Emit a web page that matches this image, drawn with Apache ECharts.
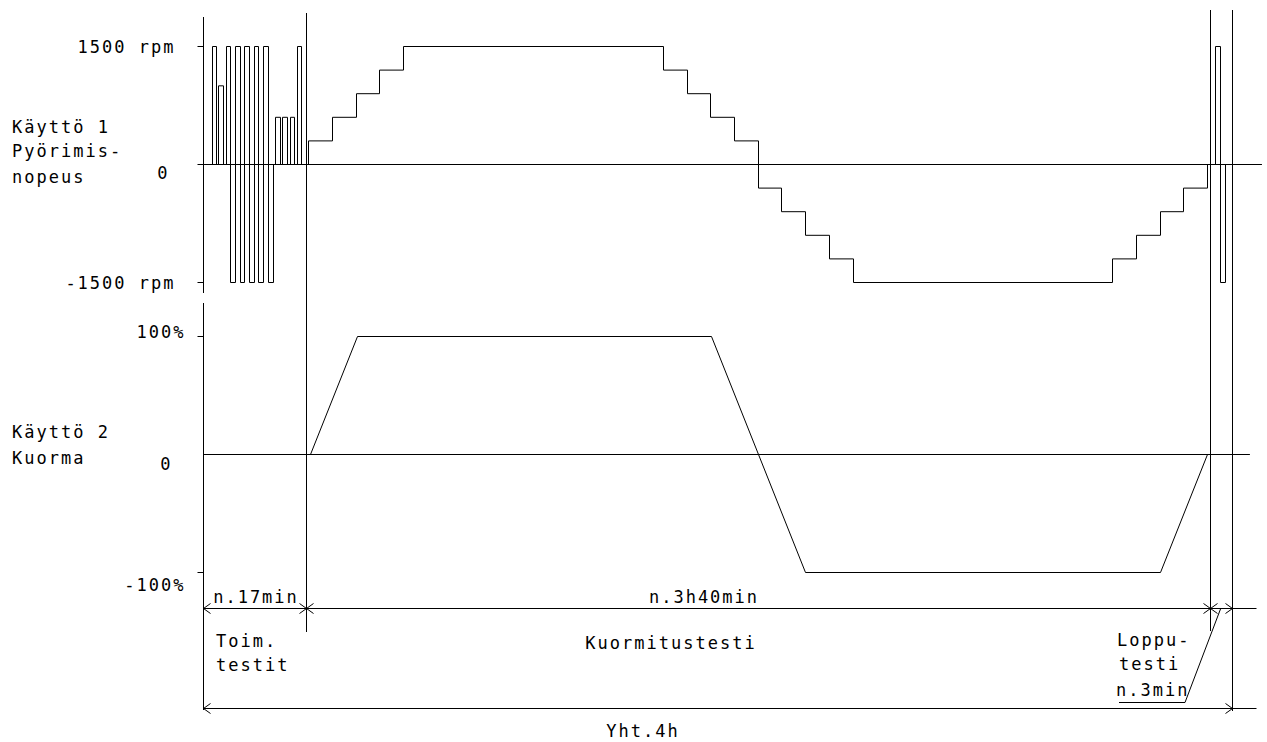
<!DOCTYPE html>
<html>
<head>
<meta charset="utf-8">
<script src="https://cdn.jsdelivr.net/npm/echarts@6/dist/echarts.min.js"></script>
<style>
html,body{margin:0;padding:0;background:#fff;}
#main{width:1267px;height:742px;}
#main text{letter-spacing:2px;}
</style>
</head>
<body>
<div id="main"></div>
<script>
// ---- data (time in drawing units along the shared time axis) ----
const speedT = [0, 9, 13, 15, 20, 23, 27, 32, 37, 41, 46, 51, 55, 60, 65, 70, 72, 77, 79, 84, 87, 91, 94, 98, 105, 129, 153, 176, 200, 460, 484, 507, 531, 555, 578, 602, 626, 650, 909, 933, 957, 980, 1004, 1012, 1017, 1022, 1058];
const speedV = [0, 1500, 0, 1000, 0, 1500, -1500, 1500, -1500, 1500, -1500, 1500, -1500, 1500, -1500, 0, 600, 0, 600, 0, 600, 0, 1500, 0, 300, 600, 900, 1200, 1500, 1200, 900, 600, 300, -300, -600, -900, -1200, -1500, -1200, -900, -600, -300, 0, 1500, -1500, 0, 0];
const loadT = [107, 154, 508, 602, 957, 1004];
const loadV = [0, 100, 100, -100, -100, 0];
const speedTicks = [-1500, 0, 1500];
const loadTicks = [-100, 0, 100];
const phaseBounds = [0, 103, 1007, 1029];
const phaseDur = ['n.17min', 'n.3h40min', 'n.3min'];
const phaseNames = [['Toim.', 'testit'], ['Kuormitustesti'], ['Loppu-', 'testi']];
const totalLabel = 'Yht.4h';
const drive1Label = ['Käyttö 1', 'Pyörimis-', 'nopeus'];
const drive2Label = ['Käyttö 2', 'Kuorma'];

// ---- styling ----
const FF = '"DejaVu Sans Mono", monospace';
const FS = 17;
const INK = '#000';

const chart = echarts.init(document.getElementById('main'), null, {renderer: 'svg', width: 1267, height: 742});

function lab(extra) {
  return Object.assign({color: INK, fontFamily: FF, fontSize: FS}, extra);
}
function yBase(grid, min, max, interval) {
  return {gridIndex: grid, type: 'value', min: min, max: max, interval: interval, position: 'left',
    axisLine: {show: false}, splitLine: {show: false}};
}

const option = {
  animation: false,
  backgroundColor: '#fff',
  grid: [
    {left: 203.5, top: 46.5, width: 1058, height: 236},
    {left: 203.5, top: 336.5, width: 1046, height: 236}
  ],
  xAxis: [
    {gridIndex: 0, type: 'value', min: 0, max: 1058,
     axisLine: {show: true, onZero: true, lineStyle: {color: INK, width: 1}},
     axisTick: {show: false}, axisLabel: {show: false}, splitLine: {show: false}},
    {gridIndex: 1, type: 'value', min: 0, max: 1046,
     axisLine: {show: true, onZero: true, lineStyle: {color: INK, width: 1}},
     axisTick: {show: false}, axisLabel: {show: false}, splitLine: {show: false}}
  ],
  yAxis: [
    Object.assign(yBase(0, speedTicks[0], speedTicks[2], 1500), {
      axisTick: {show: true, customValues: speedTicks, length: 6, lineStyle: {color: INK}},
      axisLabel: lab({customValues: [speedTicks[0], speedTicks[2]], margin: 28,
        formatter: v => v === 0 ? '' : v + ' rpm'})
    }),
    Object.assign(yBase(0, speedTicks[0], speedTicks[2], 1500), {
      axisTick: {show: false},
      axisLabel: lab({customValues: [0], margin: 34, verticalAlign: 'top', lineHeight: 17,
        formatter: v => v === 0 ? '0' : ''})
    }),
    Object.assign(yBase(1, loadTicks[0], loadTicks[2], 100), {
      axisTick: {show: true, customValues: [loadTicks[0], loadTicks[2]], length: 6, lineStyle: {color: INK}},
      axisLabel: lab({customValues: [loadTicks[2]], margin: 18, verticalAlign: 'bottom', lineHeight: 10,
        formatter: v => v === 100 ? v + '%' : ''})
    }),
    Object.assign(yBase(1, loadTicks[0], loadTicks[2], 100), {
      axisTick: {show: false},
      axisLabel: lab({customValues: [0], margin: 31, verticalAlign: 'top', lineHeight: 18,
        formatter: v => v === 0 ? '0' : ''})
    }),
    Object.assign(yBase(1, loadTicks[0], loadTicks[2], 100), {
      axisTick: {show: false},
      axisLabel: lab({customValues: [loadTicks[0]], margin: 18, verticalAlign: 'top', lineHeight: 17, padding: [4, 0, 0, 0],
        formatter: v => v === -100 ? v + '%' : ''})
    })
  ],
  series: [
    {type: 'line', xAxisIndex: 0, yAxisIndex: 0, step: 'end', clip: false,
     data: speedT.map((t, i) => [t, speedV[i]]), symbol: 'none',
     lineStyle: {color: INK, width: 1}},
    {type: 'line', xAxisIndex: 1, yAxisIndex: 2, clip: false,
     data: loadT.map((t, i) => [t, loadV[i]]), symbol: 'none',
     lineStyle: {color: INK, width: 1}}
  ]
};
chart.setOption(option);

// ---- drawing-frame decorations (dimension lines, boundaries, annotations) ----
const px = t => chart.convertToPixel({xAxisIndex: 0}, t);
const bx = phaseBounds.map(px);
const G = [];
const stroke = {stroke: INK, lineWidth: 1, fill: null};
function vline(x, y1, y2) { G.push({type: 'line', silent: true, shape: {x1: x, y1: y1, x2: x, y2: y2}, style: stroke}); }
function hline(x1, x2, y) { G.push({type: 'line', silent: true, shape: {x1: x1, y1: y, x2: x2, y2: y}, style: stroke}); }
function arrow(x, y, dir) { // dir -1 tip pointing left, +1 pointing right
  G.push({type: 'polyline', silent: true, shape: {points: [[x - dir * 7, y - 5], [x, y], [x - dir * 7, y + 5]]}, style: stroke});
}
function text(s, x, y, align) {
  G.push({type: 'text', silent: true, x: x, y: y,
    style: {text: s, fill: INK, font: FS + 'px ' + FF, fontSize: FS, fontFamily: FF,
      align: align, textAlign: align, verticalAlign: 'middle', textVerticalAlign: 'middle'}});
}

// axis lines (left frame)
vline(bx[0], 17, 293);
vline(bx[0], 303, 710);
// phase boundaries
vline(bx[1], 13, 632);
vline(bx[2], 10, 631);
vline(bx[3], 10, 711);

// dimension lines
const dimY1 = 608.5, dimY2 = 708.5, dimEnd = bx[3] + 24;
hline(bx[0], dimEnd, dimY1);
hline(bx[0], dimEnd, dimY2);
arrow(bx[0], dimY1, -1);
arrow(bx[1], dimY1, 1); arrow(bx[1], dimY1, -1);
arrow(bx[2], dimY1, 1); arrow(bx[2], dimY1, -1);
arrow(bx[3], dimY1, 1);
arrow(bx[0], dimY2, -1);
arrow(bx[3], dimY2, 1);

// leader for end-test label
G.push({type: 'polyline', silent: true, shape: {points: [[1119, 702.5], [1185, 702.5], [bx[2] + 10, 609]]}, style: stroke});

// durations
text(phaseDur[0], 256, 597, 'center');
text(phaseDur[1], 704, 597, 'center');
// phase names
text(phaseNames[0][0], 216, 641, 'left');
text(phaseNames[0][1], 216, 665, 'left');
text(phaseNames[1][0], 671, 643, 'center');
text(phaseNames[2][0], 1117, 640, 'left');
text(phaseNames[2][1], 1119, 664, 'left');
text(phaseDur[2], 1116, 690, 'left');
// total
text(totalLabel, 643, 731, 'center');
// drive labels
text(drive1Label[0], 12, 127, 'left');
text(drive1Label[1], 12, 151, 'left');
text(drive1Label[2], 12, 177, 'left');
text(drive2Label[0], 12, 432, 'left');
text(drive2Label[1], 12, 458, 'left');

chart.setOption({graphic: {elements: G}});
</script>
</body>
</html>
